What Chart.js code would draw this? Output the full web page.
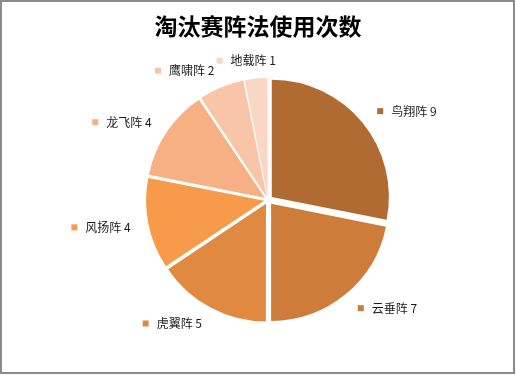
<!DOCTYPE html>
<html>
<head>
<meta charset="utf-8">
<script src="https://cdn.jsdelivr.net/npm/chart.js@4/dist/chart.umd.min.js"></script>
<style>
  body { margin: 0; background: #fff; }
  canvas { display: block; }
</style>
</head>
<body>
<canvas id="pie" width="516" height="375"></canvas>
<script>
// data
var chartTitle = "淘汰赛阵法使用次数";
var labels = ["鸟翔阵", "云垂阵", "虎翼阵", "风扬阵", "龙飞阵", "鹰啸阵", "地载阵"];
var counts = [9, 7, 5, 4, 4, 2, 1];
var colors = ["#b06b32", "#cd7c3a", "#e08a41", "#f79b4b", "#f6b084", "#f8c5a9", "#fad6c5"];

var FONT = '"Noto Sans CJK SC", "Noto Sans", sans-serif';
var total = counts.reduce(function(a, b) { return a + b; }, 0);

// title, border and the outside labels with their little squares
var decorations = {
  id: "decorations",
  afterDraw: function(chart) {
    var ctx = chart.ctx;
    ctx.save();
    ctx.strokeStyle = "#8a8a8a";
    ctx.lineWidth = 2;
    ctx.strokeRect(1, 1, 513, 372);

    ctx.fillStyle = "#000";
    ctx.font = "bold 23px " + FONT;
    ctx.textAlign = "center";
    ctx.textBaseline = "middle";
    ctx.fillText(chartTitle, 258, 26);

    ctx.font = "12px " + FONT;
    var meta = chart.getDatasetMeta(0);
    meta.data.forEach(function(arc, i) {
      var p = arc.getProps(["x", "y", "startAngle", "endAngle", "outerRadius"], true);
      var mid = (p.startAngle + p.endAngle) / 2;
      var R = p.outerRadius + 23;
      var ax = p.x + Math.cos(mid) * R;
      var ay = p.y + Math.sin(mid) * R;
      var txt = labels[i] + " " + counts[i];
      var w = ctx.measureText(txt).width;
      var sq;
      if (Math.abs(Math.cos(mid)) < 0.2) {
        sq = ax - (w + 14) / 2 - 8;
      } else if (Math.cos(mid) > 0) {
        sq = ax + 1;
      } else {
        sq = ax - w - 14;
      }
      ctx.fillStyle = colors[i];
      ctx.fillRect(sq, ay - 3, 6, 6);
      ctx.fillStyle = "#1a1a1a";
      ctx.textAlign = "left";
      ctx.fillText(txt, sq + 14, ay);
    });
    ctx.restore();
  }
};

new Chart(document.getElementById("pie"), {
  type: "pie",
  data: {
    labels: labels,
    datasets: [{
      data: counts,
      backgroundColor: colors,
      borderWidth: 0,
      // chart.js pushes thin slices further out, even that out so every slice moves ~5px
      offset: function(c) {
        var circ = c.raw / total * Math.PI * 2;
        return 20 / (2 - Math.sin(Math.min(Math.PI, circ)));
      },
      radius: 117
    }]
  },
  options: {
    responsive: false,
    animation: false,
    layout: { padding: { left: 30, right: 10, top: 40, bottom: 15 } },
    plugins: {
      legend: { display: false },
      title: { display: false },
      tooltip: { enabled: false }
    }
  },
  plugins: [decorations]
});
</script>
</body>
</html>
